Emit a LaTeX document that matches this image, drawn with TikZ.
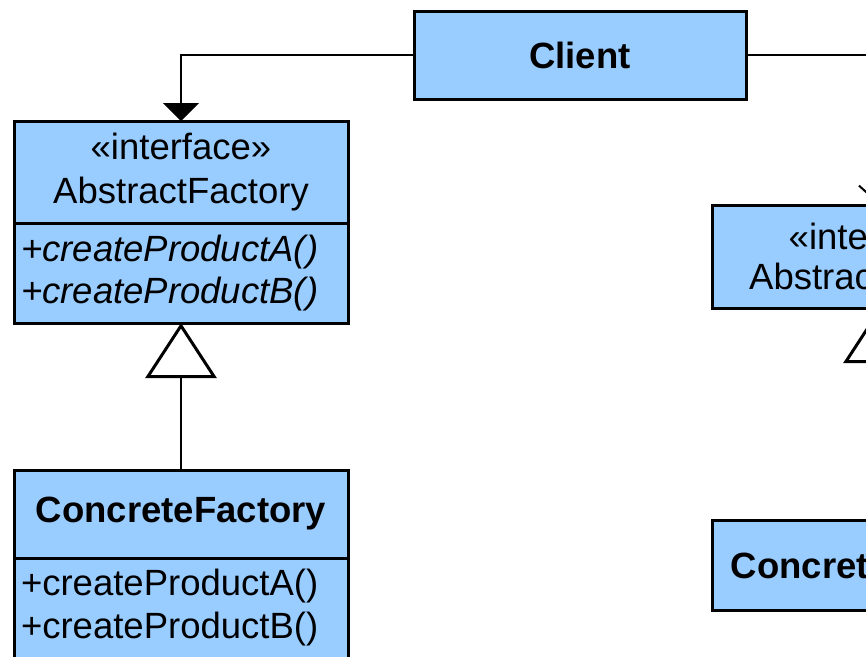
\documentclass[tikz,border=0pt]{standalone}
\usepackage{fontspec}
\setmainfont{Liberation Sans}
\usetikzlibrary{arrows.meta}
\definecolor{boxblue}{RGB}{153,204,255}
\begin{document}
\begin{tikzpicture}[x=1pt,y=-1pt,
  cls/.style={draw=black, line width=3pt, fill=boxblue, minimum width=334pt,
    inner sep=0pt, outer sep=0pt, anchor=north west, align=center,
    font=\fontsize{36.5}{44}\selectfont},
  meth/.style={cls, align=left, text width=320pt, inner xsep=7pt, minimum width=0pt},
  conn/.style={line width=2pt, draw=black},
  gen/.style={conn, -{Triangle[open, length=55pt, width=71pt, line width=3pt, fill=white]}}
]
\useasboundingbox (0,0) rectangle (866,656);
\clip (0,0) rectangle (866,656);
% Client
\node[cls, minimum width=332pt, minimum height=88pt, font=\fontsize{36.5}{44}\selectfont\bfseries] (client) at (414,11) {Client};
% AbstractFactory
\node[cls, minimum height=102pt] (afh) at (14,121) {«interface»\\AbstractFactory};
\node[meth, minimum height=100pt, font=\fontsize{36.5}{42}\selectfont\itshape] (afm) at (afh.south west) {+createProductA()\\+createProductB()};
% ConcreteFactory
\node[cls, minimum height=88pt, font=\fontsize{36.5}{44}\selectfont\bfseries] (cfh) at (14,470) {ConcreteFactory};
\node[meth, minimum height=100pt, font=\fontsize{36.5}{43}\selectfont] (cfm) at (cfh.south west) {+createProductA()\\+createProductB()};
% AbstractProduct
\node[cls, minimum height=103pt, font=\fontsize{36.5}{40}\selectfont] (aph) at (712,205) {«interface»\\AbstractProduct};
% ConcreteProduct
\node[cls, minimum height=90pt, font=\fontsize{36.5}{44}\selectfont\bfseries] (cph) at (712,520) {ConcreteProduct};
% connectors
\draw[conn, -{Triangle[length=18pt, width=36pt]}] (client.west) -| (afh.north);
\draw[conn, -{Straight Barb[length=18pt, width=40pt, line width=2pt]}] (client.east) -| (aph.north);
\draw[gen] (cfh.north) -- (afm.south);
\draw[gen] (cph.north) -- (aph.south);
\end{tikzpicture}
\end{document}
